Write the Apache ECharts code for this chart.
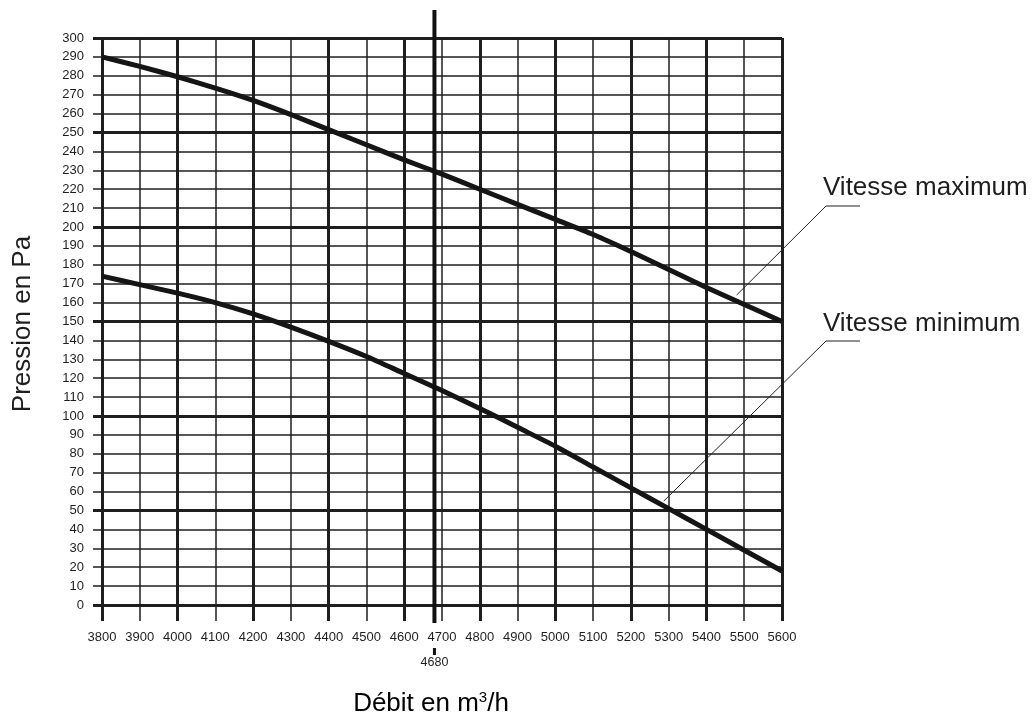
<!DOCTYPE html>
<html>
<head>
<meta charset="utf-8">
<script src="https://cdn.jsdelivr.net/npm/echarts@6/dist/echarts.min.js"></script>
<style>
html,body{margin:0;padding:0;background:#fff;}
#chart{width:1036px;height:718px;}
</style>
</head>
<body>
<div id="chart"></div>
<script>
// Débit (m³/h)
const debit = [3800,3900,4000,4100,4200,4300,4400,4500,4600,4700,4800,4900,5000,5100,5200,5300,5400,5500,5600];
// Vitesse maximum (Pa)
const vitesseMax = [290,285,279.5,273.5,267,259.5,251.5,243.5,235.5,228,220,212,204,196,187,177.5,168,159,150];
// Vitesse minimum (Pa)
const vitesseMin = [174,169.5,165,160,154,147,139.5,131.5,122.5,113.5,104,94,84,73,62,51,40,29,18];
const seriesNames = ['Vitesse maximum','Vitesse minimum'];
// leader anchor points on curves [debit, pression]
const leaderAnchors = [[5480,164],[5287,55]];
const markDebit = 4680;
const xTitle = 'Débit en m';
const yTitle = 'Pression en Pa';

(function(){
const FONT = 'Liberation Sans, Arial, sans-serif';
const INK = '#1e1e1e';
const chart = echarts.init(document.getElementById('chart'));

const toPairs = (ys) => debit.map((d,i)=>[d, ys[i]]);
const plain = (v) => String(v);

const option = {
  animation:false,
  backgroundColor:'#fff',
  grid:{left:102,right:254,top:38,bottom:113,containLabel:false},
  xAxis:[
    {type:'value',min:3800,max:5600,interval:100,position:'bottom',
     axisLine:{show:false},
     axisTick:{show:true,length:16,lineStyle:{color:INK,width:1.5}},
     axisLabel:{margin:26,fontSize:13,color:INK,fontFamily:FONT,formatter:plain},
     splitLine:{show:true,lineStyle:{color:INK,width:1.5}}},
    {type:'value',min:3800,max:5600,interval:200,position:'bottom',
     axisLine:{show:false},
     axisTick:{show:true,length:16,lineStyle:{color:INK,width:3}},
     axisLabel:{show:false},
     splitLine:{show:true,lineStyle:{color:INK,width:3}}}
  ],
  yAxis:[
    {type:'value',min:0,max:300,interval:10,position:'left',
     axisLine:{show:false},
     axisTick:{show:true,length:9,lineStyle:{color:INK,width:1.5}},
     axisLabel:{margin:18,fontSize:13,color:INK,fontFamily:FONT,formatter:plain},
     splitLine:{show:true,lineStyle:{color:INK,width:1.5}}},
    {type:'value',min:0,max:300,interval:50,position:'left',
     axisLine:{show:false},
     axisTick:{show:true,length:9,lineStyle:{color:INK,width:3}},
     axisLabel:{show:false},
     splitLine:{show:true,lineStyle:{color:INK,width:3}}}
  ],
  series:[
    {name:seriesNames[0],type:'line',xAxisIndex:0,yAxisIndex:0,data:toPairs(vitesseMax),
     smooth:0.25,symbol:'none',lineStyle:{color:'#151515',width:5},z:10},
    {name:seriesNames[1],type:'line',xAxisIndex:0,yAxisIndex:0,data:toPairs(vitesseMin),
     smooth:0.25,symbol:'none',lineStyle:{color:'#151515',width:5},z:10}
  ]
};
chart.setOption(option);

const px = (p) => chart.convertToPixel({xAxisIndex:0,yAxisIndex:0}, p);
const pTop = px([3800,300]);
const pBot = px([5600,0]);
const gL = pTop[0], gT = pTop[1], gR = pBot[0], gB = pBot[1];
const m = px([markDebit,0]);
const graphics = [];
graphics.push({type:'line',shape:{x1:m[0],y1:gT-28,x2:m[0],y2:gB+18},style:{stroke:'#111',lineWidth:4},z:20});
graphics.push({type:'line',shape:{x1:m[0],y1:gB+43,x2:m[0],y2:gB+50},style:{stroke:'#111',lineWidth:3},z:20});
graphics.push({type:'text',x:m[0],y:gB+58,style:{text:String(markDebit),font:'12.5px '+FONT,fill:INK,align:'center',verticalAlign:'middle'},z:20});
const elbowY = [206,341];
const labelY = [188,324];
leaderAnchors.forEach((a,i)=>{
  const p = px(a);
  const ex = gR + 44;
  graphics.push({type:'polyline',shape:{points:[p,[ex,elbowY[i]],[ex+34,elbowY[i]]]},style:{stroke:'#222',lineWidth:1,fill:null},z:20});
  graphics.push({type:'text',x:gR+41,y:labelY[i],style:{text:seriesNames[i],font:'26px '+FONT,fill:INK,align:'left',verticalAlign:'middle'},z:20});
});
graphics.push({type:'text',x:23,y:324,rotation:Math.PI/2,style:{text:yTitle,font:'26px '+FONT,fill:INK,align:'center',verticalAlign:'middle'},z:20});
graphics.push({type:'text',x:431,y:704,style:{text:'{a|'+xTitle+'}{s|3}{a|/h}',rich:{a:{fontSize:26,fontFamily:FONT,color:INK},s:{fontSize:15,fontFamily:FONT,color:INK,padding:[0,0,12,0]}},align:'center',verticalAlign:'middle'},z:20});
chart.setOption({graphic:graphics});
})();
</script>
</body>
</html>
